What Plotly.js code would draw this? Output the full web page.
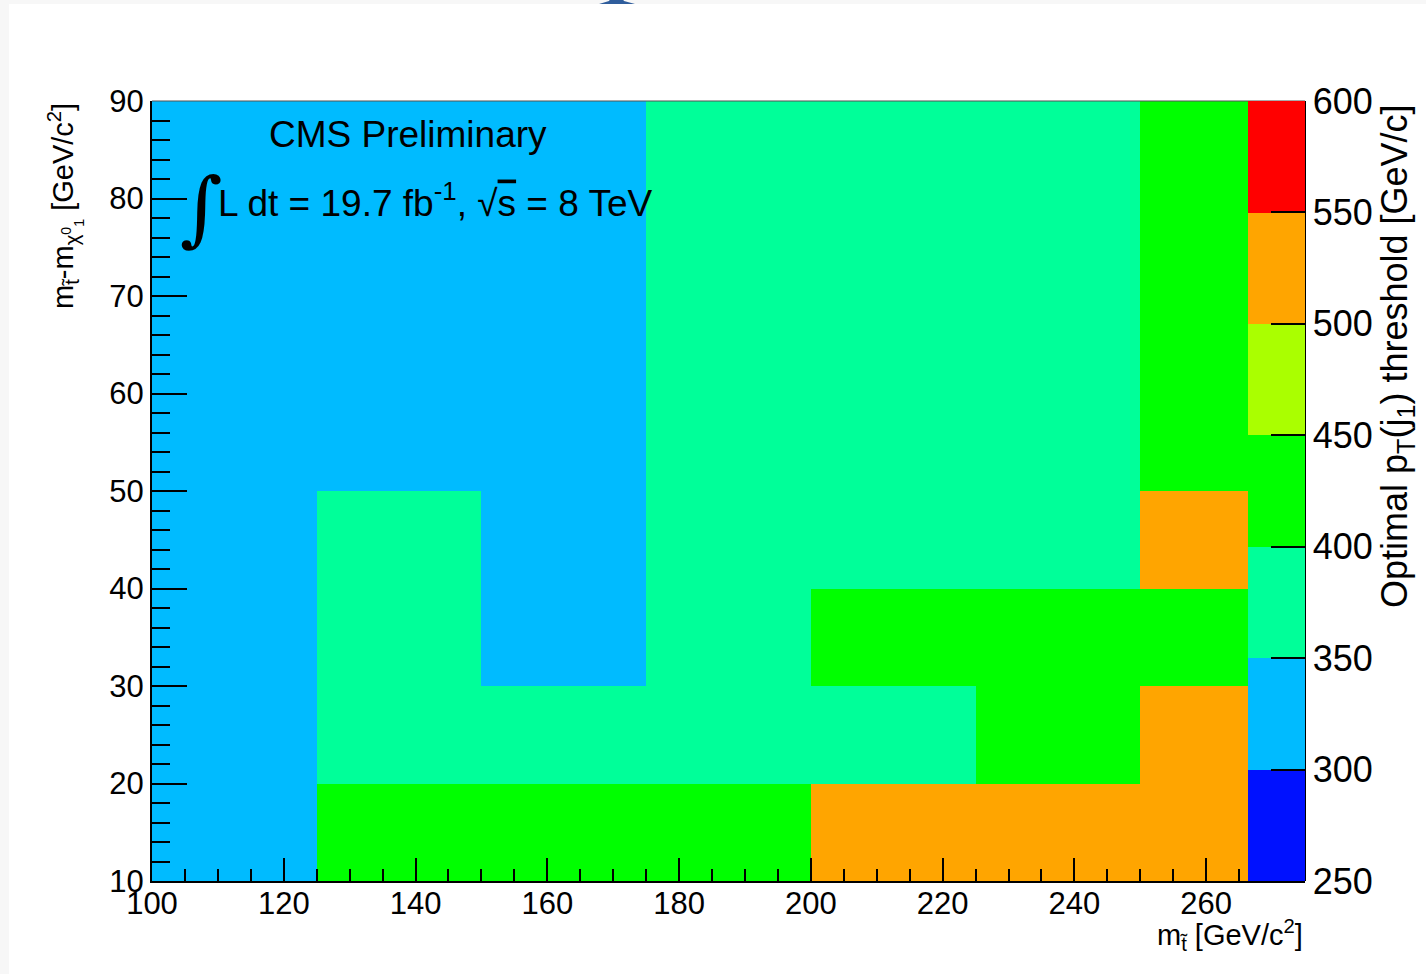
<!DOCTYPE html>
<html>
<head>
<meta charset="utf-8">
<script src="https://cdn.plot.ly/plotly-3.0.1.min.js"></script>
<style>
html,body{margin:0;padding:0;background:#f7f7f7;}
#chart{width:1426px;height:974px;}
</style>
</head>
<body>
<div id="chart"></div>
<script>
// Bin centres (stop mass, mass difference)
const xCenters = [112.5, 137.5, 162.5, 187.5, 212.5, 237.5, 262.5];
const yCenters = [15, 25, 35, 45, 55, 65, 75, 85];
// Optimal leading-jet pT threshold [GeV/c], one row per y bin (bottom to top)
const row15 = [300, 400, 400, 400, 500, 500, 500];
const row25 = [300, 350, 350, 350, 350, 400, 500];
const row35 = [300, 350, 300, 350, 400, 400, 400];
const row45 = [300, 350, 300, 350, 350, 350, 500];
const row55 = [300, 300, 300, 350, 350, 350, 400];
const row65 = [300, 300, 300, 350, 350, 350, 400];
const row75 = [300, 300, 300, 350, 350, 350, 400];
const row85 = [300, 300, 300, 350, 350, 350, 400];
const zRows = [row15, row25, row35, row45, row55, row65, row75, row85];
// Palette bands
const bandEdges = [250, 300, 350, 400, 450, 500, 550, 600];
const bandColors = ['#0011ff', '#00bbff', '#00ff99', '#00ff00', '#aaff00', '#ffa500', '#ff0000'];
const cbTicks = [250, 300, 350, 400, 450, 500, 550, 600];
const xTickVals = [100, 120, 140, 160, 180, 200, 220, 240, 260];
const yTickVals = [10, 20, 30, 40, 50, 60, 70, 80, 90];

const zmin = bandEdges[0], zmax = bandEdges[bandEdges.length - 1];
const eps = 1e-4;
const colorscale = [];
for (let i = 0; i < bandColors.length; i++) {
  let a = (bandEdges[i] - zmin) / (zmax - zmin);
  let b = (bandEdges[i + 1] - zmin) / (zmax - zmin);
  if (i > 0) a -= eps;
  if (i < bandColors.length - 1) b -= eps;
  colorscale.push([Math.max(0, a), bandColors[i]]);
  colorscale.push([Math.min(1, b), bandColors[i]]);
}

const FONT = 'Liberation Sans, Arial, Helvetica, sans-serif';

const trace = {
  type: 'heatmap',
  x: xCenters,
  y: yCenters,
  z: zRows,
  zmin: zmin,
  zmax: zmax,
  colorscale: colorscale,
  hoverinfo: 'x+y+z',
  colorbar: {
    x: (1248 - 152) / 1153,
    xanchor: 'left',
    xref: 'paper',
    y: 0.5,
    yanchor: 'middle',
    len: 1,
    lenmode: 'fraction',
    thickness: 57,
    thicknessmode: 'pixels',
    xpad: 0,
    ypad: 0,
    outlinewidth: 0,
    tickmode: 'array',
    tickvals: cbTicks,
    ticktext: cbTicks.map(String),
    ticks: 'inside',
    ticklen: 34,
    tickwidth: 2,
    tickcolor: '#000',
    tickfont: {family: FONT, size: 36, color: '#000'}
  }
};

const layout = {
  width: 1426,
  height: 974,
  paper_bgcolor: '#f7f7f7',
  plot_bgcolor: '#ffffff',
  margin: {l: 152, r: 121, t: 101, b: 93, autoexpand: false},
  showlegend: false,
  font: {family: FONT, color: '#000'},
  xaxis: {
    range: [100, 275],
    tickmode: 'array',
    tickvals: xTickVals,
    ticktext: xTickVals.map(String),
    ticks: 'inside',
    ticklen: 23,
    tickwidth: 2,
    tickcolor: '#000',
    minor: {dtick: 5, tick0: 100, ticks: 'inside', ticklen: 12, tickwidth: 2, tickcolor: '#000', showgrid: false},
    showgrid: false,
    zeroline: false,
    showline: true,
    linecolor: '#000',
    linewidth: 2,
    tickfont: {family: FONT, size: 31, color: '#000'},
    ticklabelstandoff: -6
  },
  yaxis: {
    range: [10, 90],
    tickmode: 'array',
    tickvals: yTickVals,
    ticktext: yTickVals.map(String),
    ticks: 'inside',
    ticklen: 35,
    tickwidth: 2,
    tickcolor: '#000',
    minor: {dtick: 2, tick0: 10, ticks: 'inside', ticklen: 18, tickwidth: 2, tickcolor: '#000', showgrid: false},
    showgrid: false,
    zeroline: false,
    showline: true,
    linecolor: '#000',
    linewidth: 2,
    tickfont: {family: FONT, size: 31, color: '#000'},
    ticklabelstandoff: 0
  },
  shapes: [
    {type: 'rect', xref: 'paper', yref: 'paper', layer: 'below',
     x0: (9 - 152) / 1153, x1: (1426 - 152) / 1153, y0: (881 - 974) / 780, y1: (881 - 4) / 780,
     fillcolor: '#ffffff', line: {width: 0}},
    {type: 'line', xref: 'paper', yref: 'paper', x0: 0, x1: 1, y0: 1, y1: 1,
     line: {color: '#555', width: 1.2}},
    {type: 'line', xref: 'paper', yref: 'paper', x0: 1, x1: 1, y0: 0, y1: 1,
     line: {color: '#000', width: 2}},
    {type: 'path', xref: 'paper', yref: 'paper',
     path: 'M ' + ((599 - 152) / 1153) + ' ' + ((881 - 4) / 780) +
           ' L ' + ((635 - 152) / 1153) + ' ' + ((881 - 4) / 780) +
           ' L ' + ((624 - 152) / 1153) + ' ' + ((881 - 1) / 780) +
           ' L ' + ((622 - 152) / 1153) + ' ' + ((881 + 2) / 780) +
           ' L ' + ((611 - 152) / 1153) + ' ' + ((881 + 2) / 780) +
           ' L ' + ((609 - 152) / 1153) + ' ' + ((881 - 1) / 780) + ' Z',
     fillcolor: '#2f5d9c', line: {width: 0}}
  ],
  annotations: [
    {xref: 'paper', yref: 'paper', x: (408 - 152) / 1153, y: (881 - 135) / 780,
     xanchor: 'center', yanchor: 'middle', showarrow: false,
     text: 'CMS Preliminary', font: {family: FONT, size: 37, color: '#000'}},
    {xref: 'paper', yref: 'paper', x: (201 - 152) / 1153, y: (881 - 208) / 780,
     xanchor: 'center', yanchor: 'middle', showarrow: false,
     text: '∫', font: {family: 'DejaVu Serif, serif', size: 82, color: '#000'}},
    {xref: 'paper', yref: 'paper', x: (216 - 152) / 1153, y: (881 - 200) / 780,
     xanchor: 'left', yanchor: 'middle', showarrow: false,
     text: 'L dt = 19.7 fb<sup>-1</sup>, √<span style="text-decoration:overline">s</span> = 8 TeV',
     font: {family: FONT, size: 37, color: '#000'}},
    {xref: 'paper', yref: 'paper', x: (65 - 152) / 1153, y: (881 - 206) / 780,
     xanchor: 'center', yanchor: 'middle', showarrow: false, textangle: -90,
     text: 'm<sub>t̃</sub>-m<sub>χ<sup>0</sup><sub>1</sub></sub> [GeV/c<sup>2</sup>]',
     font: {family: FONT, size: 29, color: '#000'}},
    {xref: 'paper', yref: 'paper', x: 1, y: (881 - 935) / 780,
     xanchor: 'right', yanchor: 'middle', showarrow: false,
     text: 'm<sub>t̃</sub> [GeV/c<sup>2</sup>]',
     font: {family: FONT, size: 29, color: '#000'}},
    {xref: 'paper', yref: 'paper', x: (1397 - 152) / 1153, y: (881 - 356) / 780,
     xanchor: 'center', yanchor: 'middle', showarrow: false, textangle: -90,
     text: 'Optimal p<sub>T</sub>(j<sub>1</sub>) threshold [GeV/c]',
     font: {family: FONT, size: 36, color: '#000'}}
  ]
};

Plotly.newPlot('chart', [trace], layout, {displayModeBar: false, staticPlot: true});
</script>
</body>
</html>
